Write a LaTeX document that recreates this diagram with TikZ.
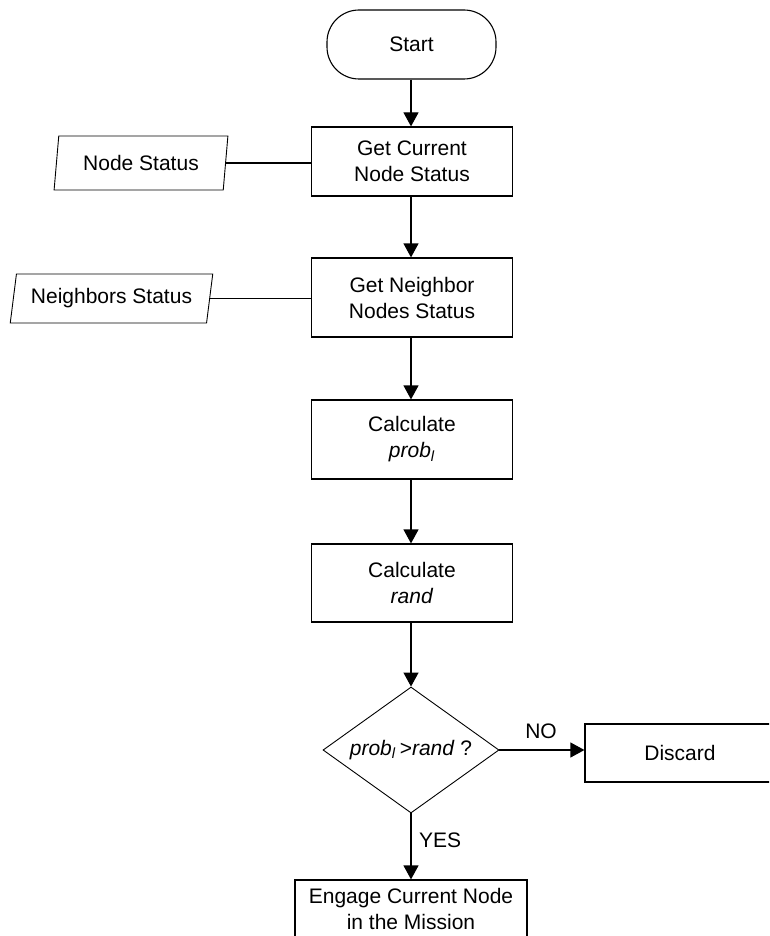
\documentclass[tikz,border=0pt]{standalone}
\usepackage{fontspec}
\setmainfont{Liberation Sans}
\usetikzlibrary{shapes.geometric,shapes.misc,arrows.meta}

\begin{document}
\begin{tikzpicture}[x=1pt,y=-1pt,
  every node/.style={font=\fontsize{21}{26}\selectfont, align=center, inner sep=0pt},
  procbox/.style={draw, line width=1.2pt, rectangle, minimum width=201pt},
  termbox/.style={draw, line width=1.1pt, rectangle, rounded corners=32pt,
                  minimum width=169pt, minimum height=69pt},
  iobox/.style={draw, line width=0.9pt, trapezium, trapezium stretches=true},
  decbox/.style={draw, line width=0.9pt, diamond, shape aspect=1.4,
                 minimum width=176pt, minimum height=126pt},
  flow/.style={line width=1.2pt, -{Triangle[width=15pt,length=14pt]}},
  link/.style={line width=1.2pt},
  lbl/.style={font=\fontsize{21}{26}\selectfont}
]
\useasboundingbox (0,0) rectangle (769,936);
\clip (0,0) rectangle (769,936);

% main column
\node[termbox] (start) at (411.5,44.5) {Start};
\node[procbox, minimum height=69pt] (cur) at (412,161.5) {Get Current\\Node Status};
\node[procbox, minimum height=79pt] (nbr) at (412,297.5) {Get Neighbor\\Nodes Status};
\node[procbox, minimum height=79pt] (prob) at (412,439.5) {Calculate\\\textit{prob}\textsubscript{\textit{l}}};
\node[procbox, minimum height=78pt] (rnd) at (412,583) {Calculate\\\textit{rand}};
\node[decbox] (dec) at (411,750) {\textit{prob}\textsubscript{\textit{l}} \kern-2pt>\textit{rand} ?};
\node[procbox, minimum width=190pt, minimum height=58pt] (disc) at (680,753) {Discard};
\node[procbox, minimum width=232pt, minimum height=58pt] (eng) at (411,909) {Engage Current Node\\in the Mission};

% data inputs
\node[iobox, trapezium left angle=78, trapezium right angle=102,
      minimum width=174pt, minimum height=54pt] (nstat) at (141,163) {Node Status};
\node[iobox, trapezium left angle=75, trapezium right angle=105,
      minimum width=203pt, minimum height=49pt] (nbstat) at (111.5,298.5) {Neighbors Status};

% connectors
\draw[flow] (start.south -| dec.north) -- (cur.north -| dec.north);
\draw[flow] (cur.south -| dec.north) -- (nbr.north -| dec.north);
\draw[flow] (nbr.south -| dec.north) -- (prob.north -| dec.north);
\draw[flow] (prob.south -| dec.north) -- (rnd.north -| dec.north);
\draw[flow] (rnd.south -| dec.north) -- (dec.north);
\draw[flow] (dec.east) -- (disc.west |- dec.east);
\draw[flow] (dec.south) -- (eng.north -| dec.south);
\draw[link] (nstat.east) -- (nstat.east -| cur.west);
\draw[link] (nbstat.east) -- (nbstat.east -| nbr.west);

% branch labels
\node[lbl] (no) at (541,731) {NO};
\node[lbl, anchor=west] (yes) at (419,840) {YES};
\end{tikzpicture}
\end{document}
